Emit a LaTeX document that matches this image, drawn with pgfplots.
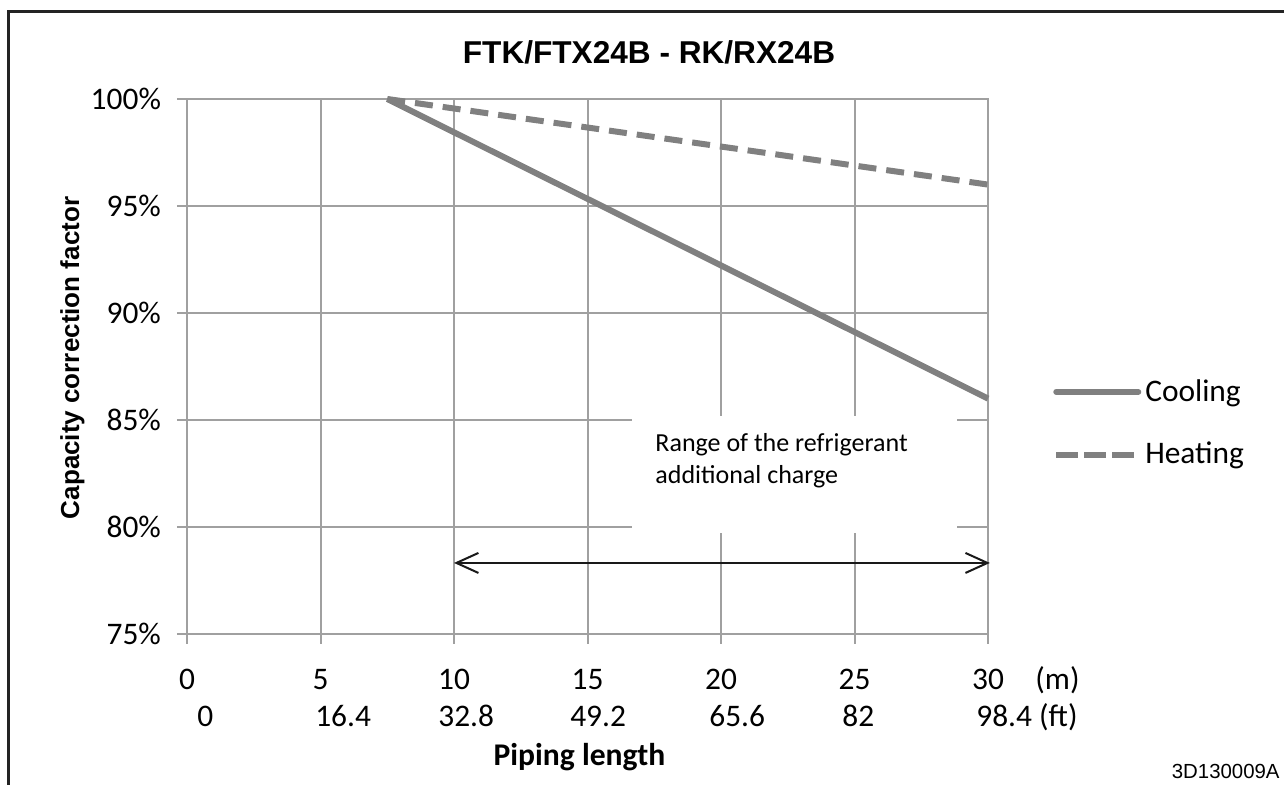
\documentclass[border=0pt]{standalone}
\usepackage{pgfplots}
\pgfplotsset{compat=1.18}
\usepackage{fontspec}
\setmainfont{Carlito}
\newfontfamily\arialfont{Liberation Sans}
\usetikzlibrary{arrows.meta}

\definecolor{gridgray}{RGB}{160,160,160}
\definecolor{linegray}{RGB}{128,128,128}
\definecolor{framegray}{RGB}{35,35,35}

\pgfplotstableread{
x y
7.5 100
30 86
}\cooling
\pgfplotstableread{
x y
7.5 100
30 96
}\heating

\begin{document}
\begin{tikzpicture}
\useasboundingbox (0,0) rectangle (642pt,392.5pt);
% frame (top and left only)
\draw[framegray, line width=1.5pt] (4pt,0pt) -- (4pt,386.5pt) -- (642pt,386.5pt);
% title and drawing number
\node[font=\arialfont\bfseries\fontsize{15.8}{18}\selectfont] at (324.5pt,366.5pt) {FTK/FTX24B - RK/RX24B};
\node[font=\arialfont\fontsize{10.2}{12}\selectfont, anchor=east, inner sep=0pt] at (640pt,7pt) {3D130009A};

\begin{axis}[
  at={(93.5pt,75.5pt)}, anchor=south west,
  scale only axis,
  width=400.5pt, height=267.5pt,
  xmin=0, xmax=30, ymin=75, ymax=100,
  xtick={0,5,10,15,20,25,30},
  xticklabels={0,5,10,15,20,25,30},
  ytick={75,80,85,90,95,100},
  yticklabels={75\%,80\%,85\%,90\%,95\%,100\%},
  xtick pos=bottom, ytick pos=left,
  tick align=outside,
  major tick length=5pt,
  tick style={gridgray, line width=1pt},
  grid=major,
  major grid style={gridgray, line width=1pt},
  axis line style={gridgray, line width=1pt},
  ticklabel style={font=\fontsize{15.7}{18}\selectfont},
  xticklabel style={anchor=base, yshift=-23pt},
  yticklabel style={xshift=-4.5pt},
  xlabel={Piping length},
  ylabel={Capacity correction factor},
  xlabel style={font=\bfseries\fontsize{15.8}{18}\selectfont, at={(axis description cs:0.49,-0.23)}, anchor=center},
  ylabel style={font=\arialfont\bfseries\fontsize{13}{16}\selectfont, at={(axis description cs:-0.143,0.516)}, anchor=center},
  legend style={draw=none, fill=none, at={(axis description cs:1.081,0.394)}, anchor=west,
    font=\fontsize{15.7}{18}\selectfont, row sep=15pt, inner sep=0pt,
    cells={anchor=west}},
  clip=false,
]
% white label box over the grid
\fill[white] (axis cs:16.67,85.19) rectangle (axis cs:28.84,79.72);
\node[anchor=west, inner sep=0pt, font=\fontsize{13}{16}\selectfont] at (axis cs:17.53,83.83) {Range of the refrigerant};
\node[anchor=west, inner sep=0pt, font=\fontsize{13}{16}\selectfont] at (axis cs:17.53,82.34) {additional charge};
% range arrow
\draw[black!90, line width=1pt, {Straight Barb[length=11pt,width=10pt]}-{Straight Barb[length=11pt,width=10pt]}]
  (axis cs:10,78.32) -- (axis cs:30.07,78.32);

\addplot[linegray, line width=3pt, no marks,
  legend image code/.code={\draw[linegray, line width=3pt, line cap=round] (0pt,0pt) -- (41pt,0pt);}]
  table[x=x,y=y] {\cooling};
\addlegendentry{Cooling}
\addplot[linegray, line width=3pt, no marks, dash pattern=on 9pt off 5pt,
  legend image code/.code={\draw[linegray, line width=3pt, dash pattern=on 11pt off 3pt] (0pt,0pt) -- (39pt,0pt);}]
  table[x=x,y=y] {\heating};
\addlegendentry{Heating}

% second row of x tick labels (feet) and units
\node[anchor=base west, inner sep=0pt, font=\fontsize{15.7}{18}\selectfont] at (axis cs:0.375,75) [yshift=-46.5pt] {0};
\node[anchor=base west, inner sep=0pt, font=\fontsize{15.7}{18}\selectfont] at (axis cs:4.79,75) [yshift=-46.5pt] {16.4};
\node[anchor=base west, inner sep=0pt, font=\fontsize{15.7}{18}\selectfont] at (axis cs:9.40,75) [yshift=-46.5pt] {32.8};
\node[anchor=base west, inner sep=0pt, font=\fontsize{15.7}{18}\selectfont] at (axis cs:14.34,75) [yshift=-46.5pt] {49.2};
\node[anchor=base west, inner sep=0pt, font=\fontsize{15.7}{18}\selectfont] at (axis cs:19.55,75) [yshift=-46.5pt] {65.6};
\node[anchor=base west, inner sep=0pt, font=\fontsize{15.7}{18}\selectfont] at (axis cs:24.53,75) [yshift=-46.5pt] {82};
\node[anchor=base west, inner sep=0pt, font=\fontsize{15.7}{18}\selectfont] at (axis cs:29.55,75) [yshift=-46.5pt] {98.4 (ft)};
\node[anchor=base west, inner sep=0pt, font=\fontsize{15.7}{18}\selectfont] at (axis cs:31.76,75) [yshift=-28pt] {(m)};
\end{axis}
\end{tikzpicture}
\end{document}
